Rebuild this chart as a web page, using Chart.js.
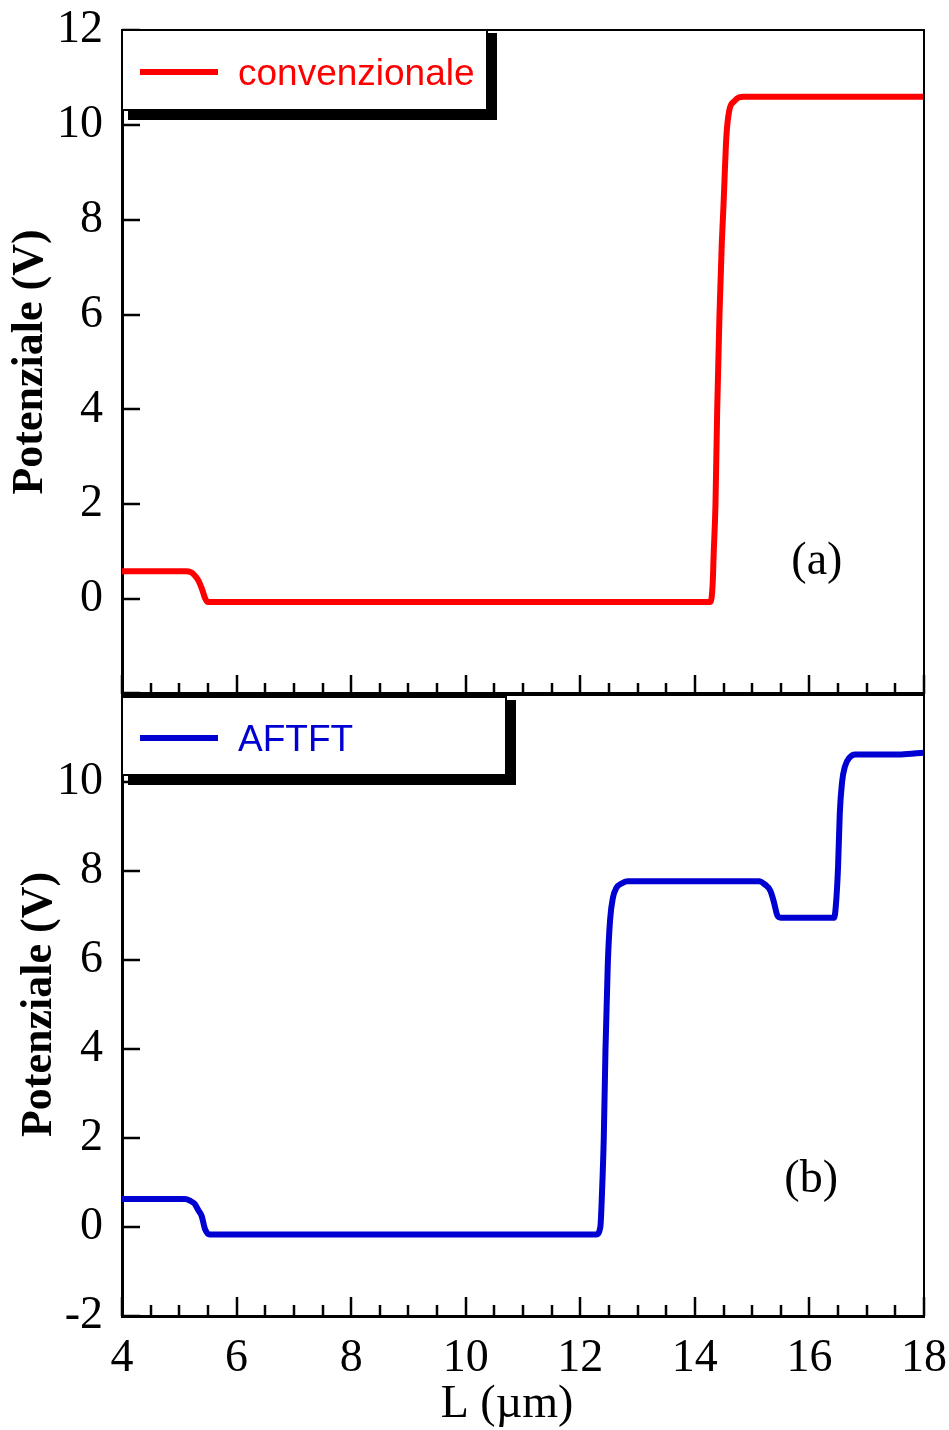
<!DOCTYPE html>
<html>
<head>
<meta charset="utf-8">
<script src="https://cdn.jsdelivr.net/npm/chart.js@4.4.1/dist/chart.umd.min.js"></script>
<style>
    html, body { margin: 0; padding: 0; background: #fff; }
    #wrap { position: relative; width: 949px; height: 1430px; }
    canvas { position: absolute; left: 0; }
    #cTop { top: 0; }
    #cBot { top: 690px; }
</style>
</head>
<body>
<div id="wrap">
    <canvas id="cBot" width="949" height="740"></canvas>
    <canvas id="cTop" width="949" height="700"></canvas>
</div>
<script>
// --- DATA ---
const xTickValues = [4, 6, 8, 10, 12, 14, 16, 18];

// pannello (a): convenzionale
const convX = [4, 5.12, 5.2, 5.27, 5.33, 5.4, 5.45, 5.5, 14.27, 14.31, 14.33, 14.36, 14.39, 14.43, 14.47, 14.5, 14.55, 14.6, 14.69, 14.77, 14.85, 18];
const convY = [0.59, 0.59, 0.57, 0.5, 0.4, 0.2, 0.02, -0.06, -0.06, 0.3, 1.0, 2.0, 4.0, 6.0, 7.5, 8.3, 9.75, 10.3, 10.5, 10.58, 10.59, 10.59];

// pannello (b): AFTFT
const aftX = [4, 5.1, 5.2, 5.27, 5.33, 5.39, 5.45, 5.53, 12.28, 12.35, 12.38, 12.41, 12.44, 12.48, 12.52, 12.57, 12.63, 12.72, 12.82, 15.12, 15.22, 15.32, 15.38, 15.44, 15.5, 16.43, 16.46, 16.5, 16.53, 16.57, 16.62, 16.7, 16.8, 17.6, 18];
const aftY = [0.63, 0.63, 0.58, 0.52, 0.38, 0.25, -0.05, -0.17, -0.17, 0.0, 0.8, 2.0, 4.0, 5.9, 6.9, 7.4, 7.62, 7.72, 7.77, 7.77, 7.7, 7.55, 7.3, 7.0, 6.95, 6.95, 7.2, 8.1, 9.3, 10.0, 10.35, 10.55, 10.62, 10.62, 10.66];

const topYLabels = ['0', '2', '4', '6', '8', '10', '12'];
const botYLabels = ['-2', '0', '2', '4', '6', '8', '10'];

// --- HELPERS ---
const SERIF = '"Liberation Serif", "Times New Roman", serif';
const SANS = '"Liberation Sans", Arial, sans-serif';

function toPoints(xs, ys) {
    return xs.map((x, i) => ({ x: x, y: ys[i] }));
}

// tacche interne, cornice, legenda con ombra, etichetta (a)/(b)
const panelDecor = {
    id: 'panelDecor',
    afterDraw(chart, args, opts) {
        const { ctx, chartArea: a, scales: { x, y } } = chart;
        ctx.save();
        ctx.strokeStyle = '#000';
        ctx.lineWidth = 2;
        ctx.beginPath();
        ctx.moveTo(a.left, a.top);
        ctx.lineTo(a.right, a.top);
        ctx.lineTo(a.right, a.bottom);
        ctx.stroke();

        // tacche asse x (maggiori ogni 2, minori ogni 0.5)
        ctx.lineWidth = 2.5;
        for (let v = x.min; v <= x.max + 1e-9; v += 0.5) {
            const px = Math.round(x.getPixelForValue(v));
            const len = (Math.abs(v % 2) < 1e-9) ? 19 : 11;
            ctx.beginPath();
            ctx.moveTo(px, a.bottom);
            ctx.lineTo(px, a.bottom - len);
            ctx.stroke();
        }
        // tacche asse y
        for (let v = y.min; v <= y.max + 1e-9; v += 2) {
            const py = Math.round(y.getPixelForValue(v));
            ctx.beginPath();
            ctx.moveTo(a.left, py);
            ctx.lineTo(a.left + 18, py);
            ctx.stroke();
        }

        // legenda
        const lg = opts.legend;
        const ds = chart.data.datasets[0];
        const bx = a.left, by = a.top + lg.dy;
        ctx.fillStyle = '#fff';
        ctx.fillRect(bx, by, lg.w, lg.h);
        ctx.fillStyle = '#000';
        ctx.fillRect(bx + lg.w, by + 3, 10, lg.h + 7);
        ctx.fillRect(bx + 6, by + lg.h, lg.w + 4, 10);
        ctx.lineWidth = 2;
        ctx.strokeRect(bx, by, lg.w, lg.h);
        ctx.strokeStyle = ds.borderColor;
        ctx.lineWidth = 6;
        ctx.beginPath();
        ctx.moveTo(bx + 18, by + lg.lineY);
        ctx.lineTo(bx + 96, by + lg.lineY);
        ctx.stroke();
        ctx.fillStyle = ds.borderColor;
        ctx.font = '37px ' + SANS;
        ctx.textBaseline = 'alphabetic';
        ctx.textAlign = 'left';
        ctx.fillText(ds.label, bx + 116, by + lg.lineY + 13);

        // etichetta del pannello
        ctx.fillStyle = '#000';
        ctx.font = '46px ' + SERIF;
        ctx.textAlign = 'center';
        ctx.textBaseline = 'middle';
        ctx.fillText(opts.tag.text, x.getPixelForValue(opts.tag.x), y.getPixelForValue(opts.tag.y));

        // titolo asse x (leggermente spostato a sinistra come nell'originale)
        if (opts.xTitle) {
            ctx.textBaseline = 'alphabetic';
            ctx.fillText(opts.xTitle, (a.left + a.right) / 2 - 16, a.bottom + 101);
        }
        ctx.restore();
    }
};

function makePanel(canvasId, label, color, xs, ys, yLabels, showX, topPad, xHeight, titlePad, decor) {
    const ctx = document.getElementById(canvasId).getContext('2d');
    return new Chart(ctx, {
        type: 'line',
        data: {
            datasets: [{
                label: label,
                data: toPoints(xs, ys),
                borderColor: color,
                borderWidth: 6,
                pointRadius: 0,
                fill: false,
                cubicInterpolationMode: 'monotone'
            }]
        },
        options: {
            responsive: false,
            animation: false,
            devicePixelRatio: 1,
            layout: { padding: { top: topPad, right: 25, left: 0, bottom: 0 } },
            plugins: {
                legend: { display: false },
                tooltip: { enabled: false },
                panelDecor: decor
            },
            scales: {
                x: {
                    type: 'linear',
                    min: 4, max: 18,
                    afterBuildTicks: s => { s.ticks = xTickValues.map(v => ({ value: v })); },
                    grid: { display: false, drawTicks: false },
                    border: { display: true, color: '#000', width: 3 },
                    ticks: {
                        display: showX,
                        color: '#000',
                        padding: 15,
                        maxRotation: 0,
                        font: { family: SERIF, size: 46 }
                    },
                    title: { display: false },
                    afterFit: s => { s.height = xHeight; s.paddingLeft = 0; s.paddingRight = 0; }
                },
                y: {
                    min: -2, max: 12,
                    ticks: {
                        stepSize: 2,
                        color: '#000',
                        padding: 19,
                        font: { family: SERIF, size: 46 },
                        callback: v => yLabels.includes(String(v)) ? String(v) : ''
                    },
                    grid: { display: false, drawTicks: false },
                    border: { display: true, color: '#000', width: 3 },
                    title: {
                        display: true,
                        text: 'Potenziale (V)',
                        color: '#000',
                        padding: { top: titlePad, bottom: 0 },
                        font: { family: SERIF, size: 44, weight: 'bold' }
                    },
                    afterFit: s => { s.width = 122; s.paddingTop = 0; s.paddingBottom = 0; }
                }
            }
        },
        plugins: [panelDecor]
    });
}

// --- RENDER ---
makePanel('cTop', 'convenzionale', '#ff0000', convX, convY, topYLabels, false, 30, 6, 4,
    { legend: { dy: 0, w: 365, h: 80, lineY: 42 }, tag: { text: '(a)', x: 16.13, y: 0.78 } });

makePanel('cBot', 'AFTFT', '#0000d2', aftX, aftY, botYLabels, true, 3, 114, 13,
    { legend: { dy: 4, w: 384, h: 78, lineY: 41 }, tag: { text: '(b)', x: 16.03, y: 1.05 }, xTitle: 'L (µm)' });
</script>
</body>
</html>
